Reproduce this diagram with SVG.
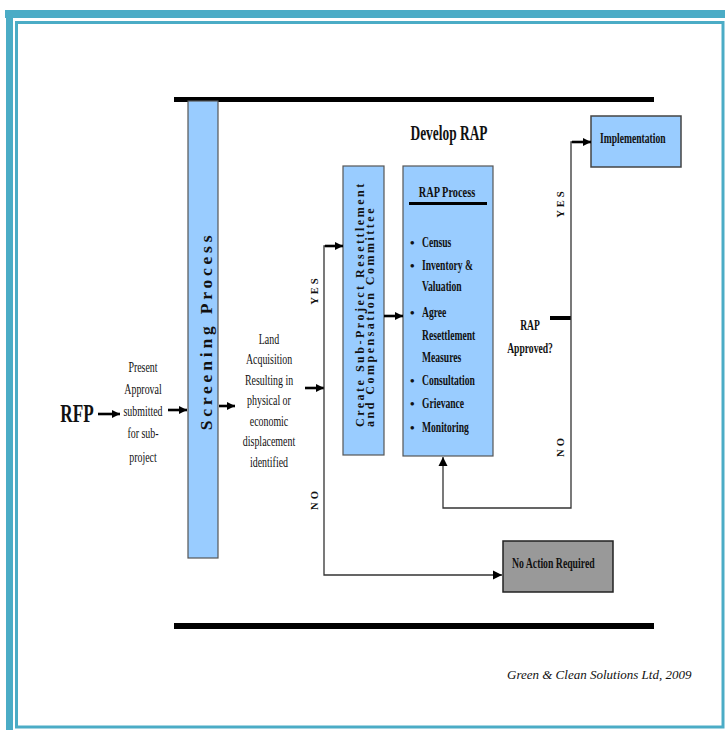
<svg xmlns="http://www.w3.org/2000/svg" width="725" height="730" viewBox="0 0 725 730">
<style>
.t{font-family:"Liberation Serif","Times New Roman","DejaVu Serif",serif;fill:#111}
.b{font-weight:bold}
.box{fill:#99CCFF;stroke:#555;stroke-width:1.2}
.ln{fill:none;stroke:#333;stroke-width:1.3}
.th{fill:none;stroke:#000;stroke-width:2.6}
.bar{fill:#000}
.frame{fill:#4BACC6}
</style>
<defs>
<marker id="ah" viewBox="0 0 10 10" refX="10" refY="5" markerUnits="userSpaceOnUse" markerWidth="8" markerHeight="9" orient="auto"><path d="M0,0 L10,5 L0,10 z" fill="#000"/></marker>
<marker id="ah2" viewBox="0 0 10 10" refX="10" refY="5" markerUnits="userSpaceOnUse" markerWidth="9" markerHeight="11" orient="auto"><path d="M0,0 L10,5 L0,10 z" fill="#000"/></marker>
</defs>
<rect width="725" height="730" fill="#fff"/>
<g id="frame">
<rect class="frame" x="5" y="10" width="720" height="8"/>
<rect class="frame" x="6" y="10" width="7" height="720"/>
<rect x="16.5" y="22.5" width="706.5" height="704.5" fill="none" stroke="#4BACC6" stroke-width="3"/>
</g>
<g id="bars">
<rect class="bar" x="174" y="97" width="480" height="5"/>
<rect class="bar" x="174" y="623" width="480" height="6"/>
</g>
<g id="title"><g transform="translate(449,140) scale(0.67,1)"><text class="t b" font-size="20" text-anchor="middle">Develop RAP</text></g></g>
<g id="rfp"><g transform="translate(77,422) scale(0.66,1)"><text class="t b" font-size="26" text-anchor="middle">RFP</text></g></g>
<g id="present"><g transform="translate(143,0) scale(0.64,1)" class="t" font-size="15.5" text-anchor="middle">
<text x="0" y="372">Present</text><text x="0" y="394">Approval</text><text x="0" y="416">submitted</text><text x="0" y="438">for sub-</text><text x="0" y="462">project</text></g></g>
<g id="screening">
<rect class="box" x="188" y="101" width="30" height="457"/>
<text class="t b" transform="translate(211.5,331) rotate(-90)" font-size="17.5" letter-spacing="3.8" text-anchor="middle">Screening Process</text>
</g>
<g id="land"><g transform="translate(269,0) scale(0.64,1)" class="t" font-size="15.5" text-anchor="middle">
<text x="0" y="344">Land</text><text x="0" y="364.5">Acquisition</text><text x="0" y="385">Resulting in</text><text x="0" y="405.5">physical or</text><text x="0" y="426">economic</text><text x="0" y="446.5">displacement</text><text x="0" y="467">identified</text></g></g>
<g id="committee">
<rect class="box" x="343" y="166" width="41" height="289"/>
<text class="t b" transform="translate(363.5,427) rotate(-90)" font-size="12" letter-spacing="2.5">Create Sub-Project Resettlement</text>
<text class="t b" transform="translate(374,427) rotate(-90)" font-size="12" letter-spacing="2.5">and Compensation Committee</text>
</g>
<g id="rap">
<rect class="box" x="403" y="166" width="90" height="290"/>
<g transform="translate(447,197) scale(0.69,1)"><text class="t b" font-size="15" text-anchor="middle">RAP Process</text></g>
<rect x="409" y="202" width="78" height="3" fill="#000"/>
<g class="t b" font-size="13"><text x="410" y="247">•</text><text x="410" y="270">•</text><text x="410" y="317">•</text><text x="410" y="385">•</text><text x="410" y="408">•</text><text x="410" y="432">•</text></g>
<g transform="translate(422,0) scale(0.64,1)" class="t b" font-size="15">
<text x="0" y="247">Census</text><text x="0" y="270">Inventory &amp;</text><text x="0" y="291">Valuation</text><text x="0" y="317">Agree</text><text x="0" y="340">Resettlement</text><text x="0" y="362">Measures</text><text x="0" y="385">Consultation</text><text x="0" y="408">Grievance</text><text x="0" y="432">Monitoring</text></g>
</g>
<g id="approved"><g transform="translate(530,0) scale(0.64,1)" class="t b" font-size="15" text-anchor="middle"><text x="0" y="330">RAP</text><text x="0" y="353">Approved?</text></g></g>
<g id="implementation">
<rect x="591" y="116" width="90" height="51" fill="#99CCFF" stroke="#444" stroke-width="1.5"/>
<g transform="translate(600,143) scale(0.64,1)"><text class="t b" font-size="15">Implementation</text></g>
</g>
<g id="noaction">
<rect x="503" y="541" width="110" height="51" fill="#999999" stroke="#222" stroke-width="1.5"/>
<g transform="translate(512,568) scale(0.65,1)"><text class="t b" font-size="15">No Action Required</text></g>
</g>
<g id="labels" class="t b" font-size="10.5" letter-spacing="3" text-anchor="middle">
<text transform="translate(318,290) rotate(-90)">YES</text>
<text transform="translate(318,499) rotate(-90)">NO</text>
<text transform="translate(564,203) rotate(-90)">YES</text>
<text transform="translate(564,446) rotate(-90)">NO</text>
</g>
<g id="connectors">
<line class="th" x1="98" y1="414" x2="120" y2="414" marker-end="url(#ah)"/>
<line class="th" x1="168" y1="410" x2="187" y2="410" marker-end="url(#ah)"/>
<line class="th" x1="219" y1="406" x2="235" y2="406" marker-end="url(#ah)"/>
<line class="th" x1="305" y1="388" x2="324" y2="388" marker-end="url(#ah)"/>
<polyline class="ln" points="341,246 324,246 324,575 502,575" marker-end="url(#ah2)"/>
<line class="th" x1="325" y1="246" x2="343" y2="246" marker-end="url(#ah)"/>
<line class="th" x1="384" y1="316" x2="403" y2="316" marker-end="url(#ah)"/>
<line x1="550" y1="318" x2="571" y2="318" stroke="#000" stroke-width="4"/>
<polyline class="ln" points="573,142 571,142 571,508 443,508 443,457" marker-end="url(#ah2)"/>
<line class="th" x1="572" y1="142" x2="591" y2="142" marker-end="url(#ah)"/>
</g>
<g id="credit"><text class="t" x="507" y="679" font-size="13" font-style="italic">Green &amp; Clean Solutions Ltd, 2009</text></g>
</svg>
